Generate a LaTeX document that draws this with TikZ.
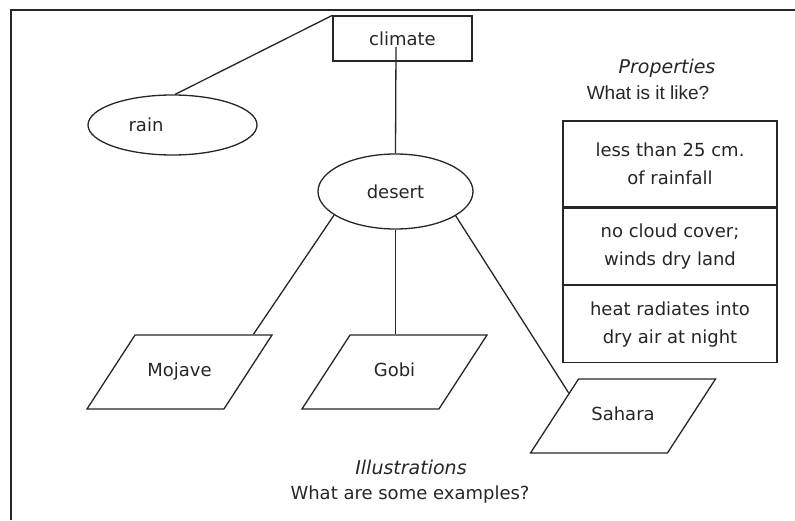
\documentclass[tikz,border=0pt]{standalone}
\usepackage{fontspec}
\setmainfont{DejaVu Sans}
\newfontfamily\arialfont{Liberation Sans}
\usetikzlibrary{shapes.geometric, positioning}
\tikzset{concept/.style={
          draw,
          rectangle,
          minimum width=139pt,
          minimum height=45pt,
          text centered
     }}
\tikzset{oval/.style={ % requires library shapes.geometric
        draw,
        ellipse,
        inner sep=0pt
    }}
\tikzset{example/.style={ % requires library shapes.geometric
        draw,
        trapezium,
        trapezium left angle=57,
        trapezium right angle=123,
        trapezium stretches body,
        minimum width=185pt,
        text height=13pt,
        text depth=4pt,
        inner ysep=28.5pt
    }}
\tikzset{property/.style={
        draw,
        rectangle,
        minimum width=214pt,
        align=center
    }}
\tikzstyle{link} = [line width=1.3pt]
\newcommand{\bodysize}{\fontsize{18}{28}\selectfont}
\newcommand{\headsize}{\fontsize{19}{22}\selectfont}

\begin{document}
\begin{tikzpicture}[x=1pt, y=1pt, font=\bodysize, line width=1.3pt, color=black!85]
\useasboundingbox (0,0) rectangle (795,520);
% frame
\draw (11,0) -- (11,510) -- (795,510);

\node (climate) [concept] at (402.5,481.5) {climate};
\node (rain) [oval, minimum width=169pt, minimum height=60pt] at (172.5,395) {rain\kern53pt};
\node (desert) [oval, minimum width=155pt, minimum height=75pt] at (395.5,328.5) {desert};
\coordinate (stem) at (396,473);
\node (mojave) [example] at (179.5,148) {Mojave};
\node (gobi) [example] at (394.5,148) {Gobi};
\node (sahara) [example] at (623,104) {Sahara};

% properties
\node (proptitle) at (667,452) {\headsize\itshape Properties};
\node (propask) at (648,427) {\arialfont\headsize What is it like?};
\node (fact1) [property, minimum height=86pt] at (670,356) {less than 25 cm.\\ of rainfall};
\node (fact2) [property, minimum height=76pt, below=0pt of fact1] {no cloud cover;\\ winds dry land};
\node (fact3) [property, minimum height=77pt, below=0pt of fact2] {heat radiates into\\ dry air at night};

% illustrations
\node (illtitle) at (411,53) {\headsize\itshape Illustrations};
\node (illask) at (410,25) {What are some examples?};

\draw [link] (climate.north west) -- (rain.85);
\draw [link] (desert.north) -- (stem);
\draw [link] (desert.201) -- (mojave.27);
\draw [link] (desert.south) -- (desert.south |- gobi.north);
\draw [link] (desert.338) -- (sahara.157);
\end{tikzpicture}
\end{document}
